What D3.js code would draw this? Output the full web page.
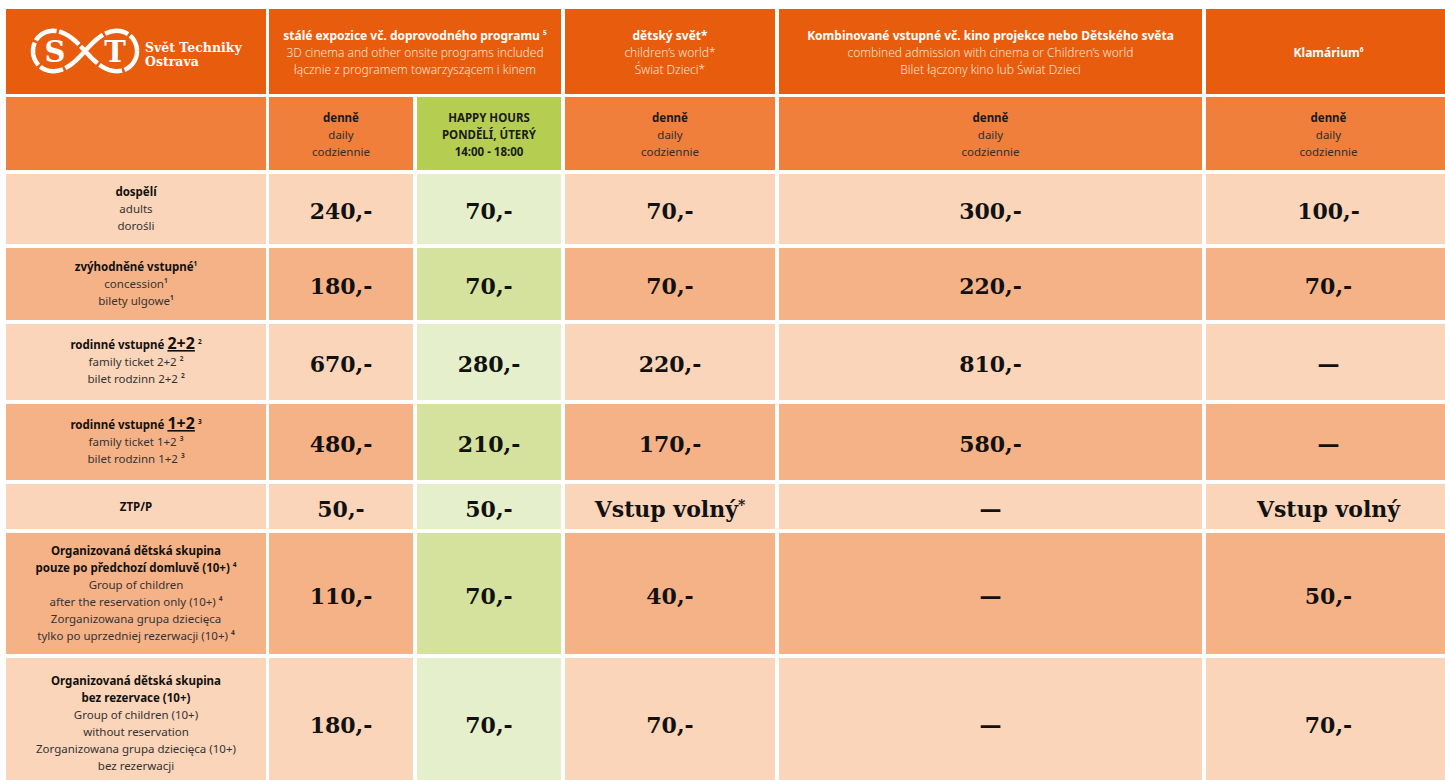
<!DOCTYPE html>
<html>
<head>
<meta charset="utf-8">
<script src="https://cdn.jsdelivr.net/npm/d3@7"></script>
<style>
  body { margin: 0; background: #fff; }
  svg text { font-family: "Noto Sans", sans-serif; }
</style>
</head>
<body>
<div id="chart"></div>
<script>
// --- data ---
var headTop = [
  ['*stálé expozice vč. doprovodného programu ^5', '3D cinema and other onsite programs included', 'łącznie z programem towarzyszącem i kinem'],
  ['*dětský svět*', 'children\u2019s world*', 'Świat Dzieci*'],
  ['*Kombinované vstupné vč. kino projekce nebo Dětského světa', 'combined admission with cinema or Children\u2019s world', 'Bilet łączony kino lub Świat Dzieci'],
  ['*Klamárium^6']
];
var headSub = [
  [],
  ['*denně', 'daily', 'codziennie'],
  ['*HAPPY HOURS', '*PONDĚLÍ, ÚTERÝ', '*14:00 - 18:00'],
  ['*denně', 'daily', 'codziennie'],
  ['*denně', 'daily', 'codziennie'],
  ['*denně', 'daily', 'codziennie']
];
var rowLabels = [
  ['*dospělí', 'adults', 'dorośli'],
  ['*zvýhodněné vstupné^1', 'concession^1', 'bilety ulgowe^1'],
  ['*rodinné vstupné _2+2_ ^2', 'family ticket 2+2 ^2', 'bilet rodzinn 2+2 ^2'],
  ['*rodinné vstupné _1+2_ ^3', 'family ticket 1+2 ^3', 'bilet rodzinn 1+2 ^3'],
  ['*ZTP/P'],
  ['*Organizovaná dětská skupina', '*pouze po předchozí domluvě (10+) ^4', 'Group of children', 'after the reservation only (10+) ^4', 'Zorganizowana grupa dziecięca', 'tylko po uprzedniej rezerwacji (10+) ^4'],
  ['*Organizovaná dětská skupina', '*bez rezervace (10+)', 'Group of children (10+)', 'without reservation', 'Zorganizowana grupa dziecięca (10+)', 'bez rezerwacji']
];
var priceStale  = ['240,-', '180,-', '670,-', '480,-', '50,-', '110,-', '180,-'];
var priceHappy  = ['70,-', '70,-', '280,-', '210,-', '50,-', '70,-', '70,-'];
var priceDetsky = ['70,-', '70,-', '220,-', '170,-', 'Vstup volný*', '40,-', '70,-'];
var priceKombi  = ['300,-', '220,-', '810,-', '580,-', '—', '—', '—'];
var priceKlam   = ['100,-', '70,-', '—', '—', 'Vstup volný', '50,-', '70,-'];
var prices = [priceStale, priceHappy, priceDetsky, priceKombi, priceKlam];

// --- layout ---
var colX = [6, 269, 417, 565, 779, 1206],
    colW = [260, 144, 144, 210, 423, 245],
    rowY = [174, 248, 324, 404, 484, 533, 658],
    rowH = [70, 72, 76, 76, 45, 121, 130];

var cx = d3.scaleOrdinal().domain(d3.range(6)).range(colX),
    cw = d3.scaleOrdinal().domain(d3.range(6)).range(colW),
    ry = d3.scaleOrdinal().domain(d3.range(7)).range(rowY),
    rh = d3.scaleOrdinal().domain(d3.range(7)).range(rowH);

var light = '#fbd5b9', dark = '#f6b287', greenLight = '#e6efcb', greenDark = '#d4e29d';

var svg = d3.select('#chart').append('svg')
            .attr('width', 1445)
            .attr('height', 780);

// writes a multi-line label, "*" = bold, "^n" = superscript, "_x_" = big underlined
function writeLines(g, lines, x, yMid, opt) {
  var lh = opt.lh || 17,
      y0 = yMid - (lines.length - 1) * lh / 2 + 4;
  lines.forEach(function(line, i) {
    var bold = line[0] === '*';
    if (bold) line = line.slice(1);
    var t = g.append('text')
             .attr('x', x)
             .attr('y', y0 + i * lh)
             .attr('text-anchor', 'middle')
             .style('font-size', (opt.size || 11.5) + 'px')
             .style('font-weight', bold ? 700 : (opt.lightW || 400))
             .attr('fill', bold ? opt.boldFill : opt.fill);
    var parts = line.split(/(_[^_]+_|\^\d)/).filter(function(p) { return p !== ''; });
    parts.forEach(function(p) {
      if (p[0] === '^') {
        t.append('tspan').attr('dy', -5).style('font-size', '6.5px').style('font-weight', 700).text(p.slice(1));
      } else if (p[0] === '_') {
        t.append('tspan').style('font-size', '16px').style('font-weight', 700)
         .style('text-decoration', 'underline').text(p.slice(1, -1));
      } else {
        t.append('tspan').text(p);
      }
    });
  });
}

// header row 1
var hdr = svg.append('g');
var topCols = [[0, 0], [1, 2], [3, 3], [4, 4], [5, 5]];
topCols.forEach(function(c) {
  hdr.append('rect')
     .attr('x', cx(c[0]))
     .attr('y', 9)
     .attr('width', cx(c[1]) + cw(c[1]) - cx(c[0]))
     .attr('height', 85)
     .attr('fill', '#e85c0d');
});
headTop.forEach(function(lines, i) {
  var c = topCols[i + 1];
  var mid = (cx(c[0]) + cx(c[1]) + cw(c[1])) / 2;
  writeLines(hdr, lines, mid, 53, { size: 12, fill: '#fde3d2', boldFill: '#fff', lightW: 300 });
});

// logo
var logo = hdr.append('g');
var lem = d3.range(0, 2 * Math.PI + 0.01, 0.02).map(function(t) {
  var s = Math.sin(t), c = Math.cos(t), d = 1 + s * s;
  return [85 + 52 * c / d, 51 + 57 * s * c / d];
});
logo.append('path')
    .attr('d', d3.line()(lem))
    .attr('fill', 'none')
    .attr('stroke', '#fff')
    .attr('stroke-width', 4.5)
    .attr('stroke-dasharray', '24 2.5');
logo.selectAll('.lt')
    .data([['S', 55], ['T', 115]])
    .enter().append('text')
    .attr('x', function(d) { return d[1]; })
    .attr('y', 62)
    .attr('text-anchor', 'middle')
    .style('font-family', '"DejaVu Serif", serif')
    .style('font-size', '29px')
    .style('font-weight', 700)
    .attr('fill', '#fff')
    .text(function(d) { return d[0]; });
logo.selectAll('.nm')
    .data(['Svět Techniky', 'Ostrava'])
    .enter().append('text')
    .attr('x', 145)
    .attr('y', function(d, i) { return 52 + i * 14; })
    .style('font-family', '"DejaVu Serif", serif')
    .style('font-size', '12.5px')
    .style('font-weight', 700)
    .attr('fill', '#fff')
    .text(function(d) { return d; });

// header row 2
var sub = svg.append('g');
headSub.forEach(function(lines, i) {
  sub.append('rect')
     .attr('x', cx(i)).attr('y', 97)
     .attr('width', cw(i)).attr('height', 73)
     .attr('fill', i === 2 ? '#b5ce52' : '#f07f3c');
  writeLines(sub, lines, cx(i) + cw(i) / 2, 134.5, { size: 11.5, fill: '#2e2e2e', boldFill: '#1a1a1a' });
});

// body rows
var body = svg.append('g');
rowLabels.forEach(function(lines, r) {
  var alt = r === 1 || r === 3 || r === 5;
  d3.range(6).forEach(function(c) {
    body.append('rect')
        .attr('x', cx(c)).attr('y', ry(r))
        .attr('width', cw(c)).attr('height', rh(r))
        .attr('fill', c === 2 ? (alt ? greenDark : greenLight) : (alt ? dark : light));
  });
  writeLines(body, lines, cx(0) + cw(0) / 2, ry(r) + rh(r) / 2, { size: 11.5, fill: '#333', boldFill: '#111' });
  prices.forEach(function(col, k) {
    var v = col[r], c = k + 1;
    var t = body.append('text')
        .attr('x', cx(c) + cw(c) / 2)
        .attr('y', ry(r) + rh(r) / 2 + 10)
        .attr('text-anchor', 'middle')
        .style('font-family', '"DejaVu Serif", serif')
        .style('font-size', '22px')
        .style('font-weight', 700)
        .attr('fill', '#111');
    if (v.slice(-1) === '*') {
      t.append('tspan').text(v.slice(0, -1));
      t.append('tspan').attr('dy', -7).style('font-size', '14px').text('*');
    } else {
      t.text(v);
    }
  });
});
</script>
</body>
</html>
